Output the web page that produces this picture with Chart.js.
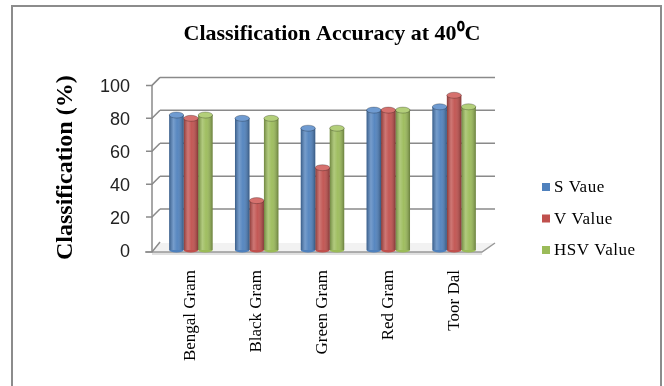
<!DOCTYPE html>
<html>
<head>
<meta charset="utf-8">
<script src="https://cdn.jsdelivr.net/npm/chart.js@4.4.1/dist/chart.umd.min.js"></script>
<style>
  html, body { margin: 0; padding: 0; background: #fff; }
  #wrap { width: 664px; height: 386px; }
</style>
</head>
<body>
<div id="wrap"><canvas id="chart" width="664" height="386"></canvas></div>
<script>
// data
const categories = ['Bengal Gram', 'Black Gram', 'Green Gram', 'Red Gram', 'Toor Dal'];
const sValue = [82, 80, 74, 85, 87];
const vValue = [80, 30, 50, 85, 94];
const hsvValue = [82, 80, 74, 85, 87];
const seriesNames = ['S Vaue', 'V Value', 'HSV Value'];
const yTicks = [0, 20, 40, 60, 80, 100];

const colors = ['#4f81bd', '#c0504d', '#9bbb59'];
const topColors = ['#6f9bd1', '#d6716e', '#b3cf7a'];
const DX = 8, DY = 8; // 3d depth offset

// border, floor, back wall grid, cylinder shading, legend
const decor = {
    id: 'decor',
    beforeDraw(chart) {
        const ctx = chart.ctx;
        ctx.save();
        ctx.fillStyle = '#fff';
        ctx.fillRect(0, 0, chart.width, chart.height);
        ctx.strokeStyle = '#8c8c8c';
        ctx.lineWidth = 2;
        ctx.strokeRect(12, 6, 649, 400);
        ctx.restore();
    },
    beforeDatasetsDraw(chart) {
        const ctx = chart.ctx;
        const y = chart.scales.y;
        const area = chart.chartArea;
        const axisX = area.left - 6;
        const base = y.getPixelForValue(0);
        ctx.save();
        // floor
        ctx.beginPath();
        ctx.moveTo(axisX, base + 2);
        ctx.lineTo(area.right - 5, base + 2);
        ctx.lineTo(area.right + DX, base - DY + 1);
        ctx.lineTo(axisX + DX, base - DY + 1);
        ctx.closePath();
        ctx.fillStyle = '#f2f2f2';
        ctx.fill();
        ctx.fillStyle = '#e0e0e0';
        ctx.fillRect(axisX, base + 2, area.right - 5 - axisX, 3);
        ctx.strokeStyle = '#999';
        ctx.lineWidth = 1.5;
        ctx.beginPath();
        ctx.moveTo(axisX - 7, base + 2);
        ctx.lineTo(area.right - 5, base + 2);
        ctx.lineTo(area.right + DX, base - DY + 1);
        ctx.stroke();
        // back wall grid lines and connectors
        ctx.strokeStyle = '#8a8a8a';
        yTicks.forEach(v => {
            const py = y.getPixelForValue(v);
            ctx.beginPath();
            if (v > 0) {
                ctx.moveTo(axisX + DX, py - DY);
                ctx.lineTo(area.right + DX, py - DY);
                ctx.moveTo(axisX - 6, py);
            } else {
                ctx.moveTo(axisX - 6, py + 2);
            }
            ctx.lineTo(axisX, v > 0 ? py : py + 2);
            ctx.lineTo(axisX + DX, py - DY);
            ctx.stroke();
        });
        ctx.beginPath();
        ctx.moveTo(axisX, y.getPixelForValue(100));
        ctx.lineTo(axisX, base + 2);
        ctx.stroke();
        ctx.restore();
    },
    afterDatasetsDraw(chart) {
        const ctx = chart.ctx;
        ctx.save();
        chart.data.datasets.forEach((ds, i) => {
            chart.getDatasetMeta(i).data.forEach(bar => {
                const l = bar.x - bar.width / 2, w = bar.width;
                const g = ctx.createLinearGradient(l, 0, l + w, 0);
                g.addColorStop(0, 'rgba(0,0,0,0.28)');
                g.addColorStop(0.3, 'rgba(255,255,255,0.22)');
                g.addColorStop(0.55, 'rgba(255,255,255,0.05)');
                g.addColorStop(1, 'rgba(0,0,0,0.32)');
                ctx.fillStyle = g;
                ctx.fillRect(l, bar.y, w, bar.base - bar.y);
                // rounded bottom
                ctx.beginPath();
                ctx.ellipse(bar.x, bar.base, w / 2, 2.5, 0, 0, Math.PI);
                ctx.fillStyle = colors[i];
                ctx.fill();
                // cylinder top
                ctx.beginPath();
                ctx.ellipse(bar.x, bar.y, w / 2, 3, 0, 0, Math.PI * 2);
                ctx.fillStyle = topColors[i];
                ctx.fill();
                ctx.strokeStyle = 'rgba(0,0,0,0.25)';
                ctx.lineWidth = 1;
                ctx.stroke();
            });
        });
        ctx.restore();
    },
    afterDraw(chart) {
        // legend on the right
        const ctx = chart.ctx;
        ctx.save();
        ctx.font = '17px "Liberation Serif", "Times New Roman", serif';
        ctx.textBaseline = 'middle';
        ctx.letterSpacing = '0.5px';
        seriesNames.forEach((name, i) => {
            const cy = 187 + i * 31.5;
            ctx.fillStyle = colors[i];
            ctx.fillRect(542, cy - 4, 8, 8);
            ctx.fillStyle = '#000';
            ctx.fillText(name, 554, cy + 1);
        });
        ctx.restore();
    }
};

new Chart(document.getElementById('chart'), {
    type: 'bar',
    data: {
        labels: categories,
        datasets: [
            { label: seriesNames[0], data: sValue, backgroundColor: colors[0] },
            { label: seriesNames[1], data: vValue, backgroundColor: colors[1] },
            { label: seriesNames[2], data: hsvValue, backgroundColor: colors[2] }
        ]
    },
    options: {
        responsive: false,
        animation: false,
        layout: { padding: { left: 11, right: 11, top: 0, bottom: 0 } },
        datasets: {
            bar: { categoryPercentage: 0.66, barPercentage: 1.0, borderWidth: 0 }
        },
        scales: {
            x: {
                grid: { display: false },
                border: { display: false },
                afterFit(scale) { scale.height = 136; },
                ticks: {
                    minRotation: 90,
                    maxRotation: 90,
                    padding: 12,
                    color: '#000',
                    font: { family: '"Liberation Serif", "Times New Roman", serif', size: 17 }
                }
            },
            y: {
                min: 0,
                max: 100,
                grid: { display: false },
                border: { display: false },
                afterFit(scale) { scale.width = 147; },
                afterBuildTicks(axis) { axis.ticks = yTicks.map(v => ({ value: v })); },
                ticks: {
                    padding: 20,
                    labelOffset: 2,
                    color: '#222',
                    font: { family: '"Liberation Sans", Arial, sans-serif', size: 18 }
                },
                title: {
                    display: true,
                    text: 'Classification (%)',
                    color: '#000',
                    padding: { top: 40, bottom: 0 },
                    font: { family: '"Liberation Serif", "Times New Roman", serif', size: 24, weight: 'bold' }
                }
            },
            // empty right-hand axis that keeps room for the legend
            side: {
                position: 'right',
                grid: { display: false },
                border: { display: false },
                ticks: { display: false },
                afterFit(scale) { scale.width = 166; }
            }
        },
        plugins: {
            legend: { display: false },
            tooltip: { enabled: false },
            title: {
                display: true,
                text: 'Classification Accuracy at 40\u2070C',
                color: '#000',
                padding: { top: 21, bottom: 38 },
                font: { family: '"Liberation Serif", "Times New Roman", serif', size: 22, weight: 'bold' }
            }
        }
    },
    plugins: [decor]
});
</script>
</body>
</html>
